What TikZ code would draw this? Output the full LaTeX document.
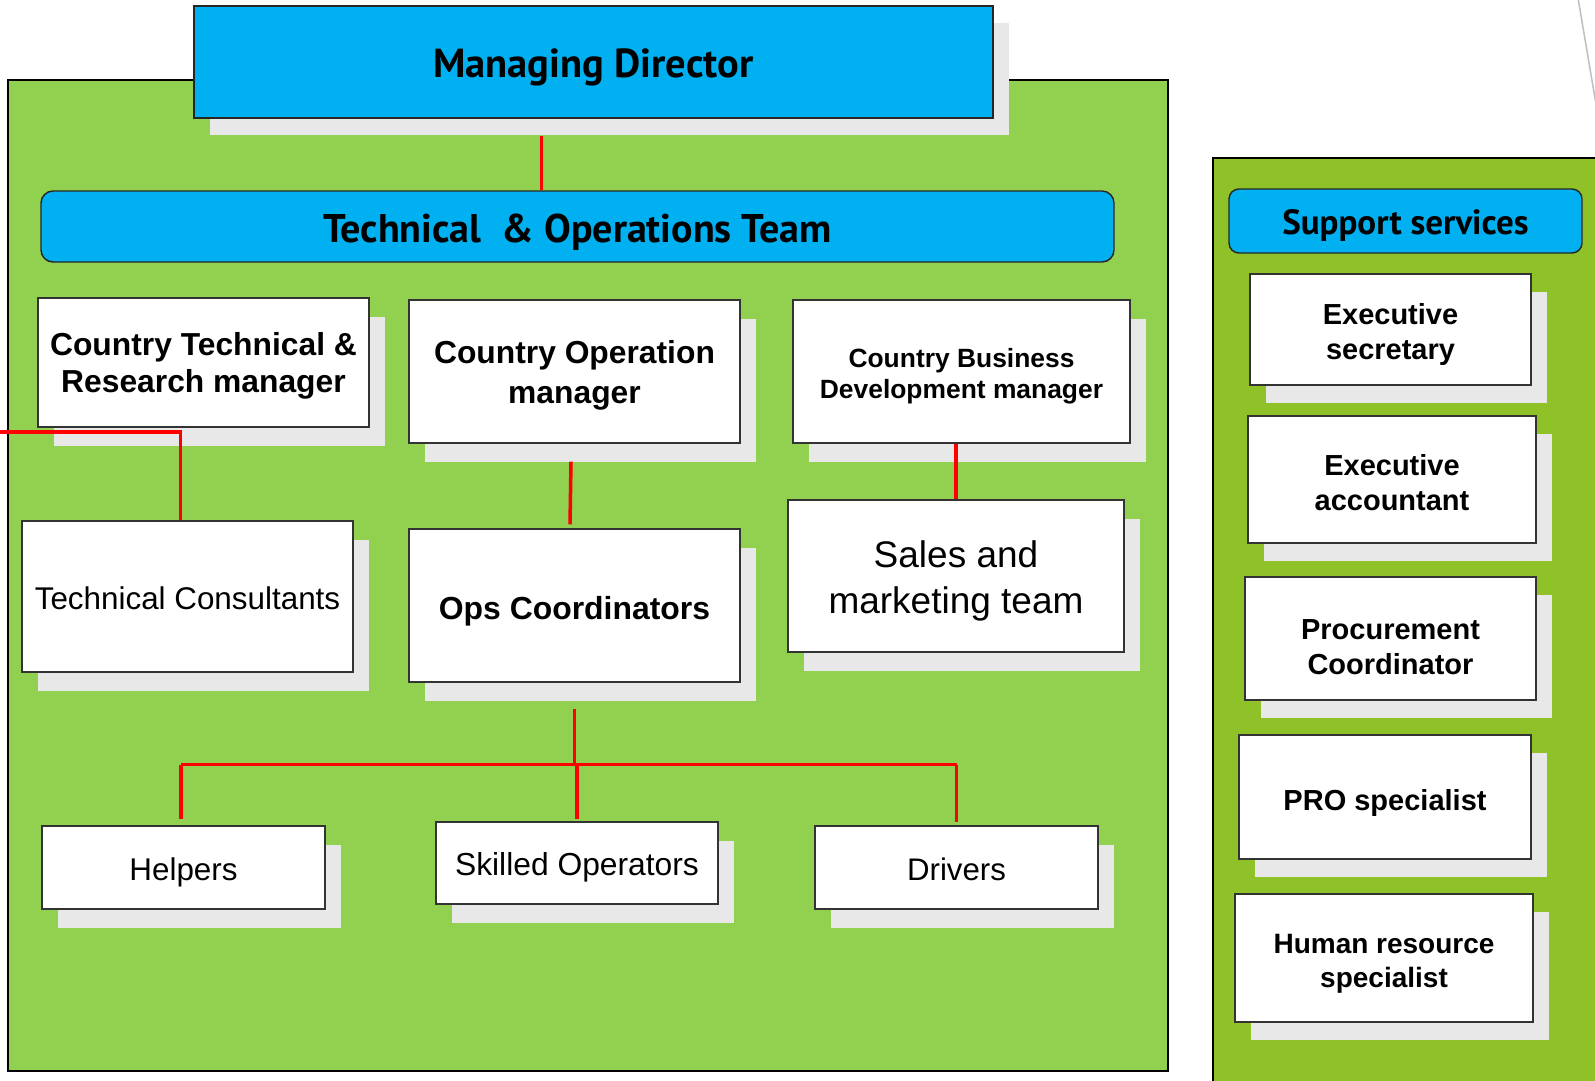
\documentclass[tikz,border=0pt]{standalone}
\usepackage{fontspec}
\setmainfont{Liberation Sans}
\newfontfamily\headfont{PT Sans}
\usetikzlibrary{shadows,calc}
\definecolor{maingreen}{HTML}{92D050}
\definecolor{supgreen}{HTML}{8FC128}
\definecolor{hdrblue}{HTML}{00B0F0}
\definecolor{shadegray}{HTML}{E8E8E8}
\definecolor{edgegray}{HTML}{333333}
\definecolor{conred}{HTML}{FF0000}
% strut on the first line: pushes the text block down by #1
\newcommand\txtdrop[1]{\rule{0pt}{\dimexpr 0.74em+#1*2\relax}}
\begin{document}
\begin{tikzpicture}[x=1pt,y=-1pt,
  panel/.style={draw=black, line width=2pt},
  orgbox/.style={draw=edgegray, line width=1.4pt, fill=white, inner sep=0pt, align=center,
     general shadow={fill=shadegray, shadow xshift=16pt, shadow yshift=-19pt}},
  supbox/.style={draw=edgegray, line width=1.4pt, fill=white, inner sep=0pt, align=center,
     font=\bfseries\fontsize{29}{35}\selectfont,
     general shadow={fill=shadegray, shadow xshift=16pt, shadow yshift=-18pt}},
  hdrbox/.style={draw=black!85, line width=1.4pt, fill=hdrblue, inner sep=0pt, align=center},
  link/.style={draw=conred, line width=3.5pt}
]
\clip (0,0) rectangle (1595,1081);
\fill[white] (0,0) rectangle (1595,1081);
% panels
\draw[panel, fill=maingreen] (8,80) rectangle (1168,1071);
\draw[panel, fill=supgreen] (1213,158) rectangle (1620,1110);
\draw[black!25, line width=1.5pt] (1578,-2) -- (1599,122);

% top headers
\node[hdrbox, minimum width=799pt, minimum height=112pt,
      general shadow={fill=shadegray, shadow xshift=16pt, shadow yshift=-17pt},
      font=\headfont\bfseries\fontsize{40.5}{44}\selectfont] (md) at (593.5,62) {\txtdrop{5pt}Managing Director};
\node[hdrbox, rounded corners=12pt, minimum width=1073pt, minimum height=71pt,
      font=\headfont\bfseries\fontsize{40}{44}\selectfont] (team) at (577.5,226.5) {\txtdrop{5pt}Technical\ \ \& Operations Team};

% managers
\node[orgbox, minimum width=331pt, minimum height=129pt, font=\bfseries\fontsize{31.8}{37}\selectfont]
  (ctr) at (203.5,362.5) {\txtdrop{3.5pt}Country Technical \&\\Research manager};
\node[orgbox, minimum width=331pt, minimum height=143pt, font=\bfseries\fontsize{31.8}{40}\selectfont]
  (com) at (574.5,371.5) {\txtdrop{4pt}Country Operation\\manager};
\node[orgbox, minimum width=337pt, minimum height=143pt, font=\bfseries\fontsize{26.4}{31}\selectfont]
  (cbd) at (961.5,371.5) {\txtdrop{4.5pt}Country Business\\Development manager};

% teams
\node[orgbox, minimum width=331pt, minimum height=151pt, font=\fontsize{31.4}{37}\selectfont]
  (tc) at (187.5,596.5) {\txtdrop{2pt}Technical Consultants};
\node[orgbox, minimum width=331pt, minimum height=153pt, font=\bfseries\fontsize{31.9}{37}\selectfont]
  (ops) at (574.5,605.5) {\txtdrop{5pt}Ops Coordinators};
\node[orgbox, minimum width=336pt, minimum height=152pt, font=\fontsize{37}{46}\selectfont]
  (sales) at (956,576) {\txtdrop{5pt}Sales and\\marketing team};

% bottom row
\node[orgbox, minimum width=283pt, minimum height=83pt, font=\fontsize{31.4}{37}\selectfont]
  (helpers) at (183.5,867.5) {\txtdrop{5pt}Helpers};
\node[orgbox, minimum width=282pt, minimum height=82pt, font=\fontsize{31.8}{37}\selectfont]
  (skilled) at (577,863) {\txtdrop{4pt}Skilled Operators};
\node[orgbox, minimum width=283pt, minimum height=83pt, font=\fontsize{31.2}{37}\selectfont]
  (drivers) at (956.5,867.5) {\txtdrop{2pt}Drivers};

% support services
\node[hdrbox, rounded corners=10pt, minimum width=353pt, minimum height=64pt,
      font=\headfont\bfseries\fontsize{35}{38}\selectfont] (ss) at (1405.5,221) {\txtdrop{4pt}Support services};
\node[supbox, minimum width=281pt, minimum height=111pt] (es) at (1390.5,329.5) {\txtdrop{4.5pt}Executive\\secretary};
\node[supbox, minimum width=288pt, minimum height=127pt] (ea) at (1392,479.5) {\txtdrop{2.5pt}Executive\\accountant};
\node[supbox, minimum width=291pt, minimum height=123pt] (pc) at (1390.5,638.5) {\txtdrop{8pt}Procurement\\Coordinator};
\node[supbox, minimum width=292pt, minimum height=124pt] (pro) at (1385,797) {\txtdrop{6pt}PRO specialist};
\node[supbox, minimum width=298pt, minimum height=128pt, font=\bfseries\fontsize{28}{34}\selectfont]
  (hr) at (1384,958) {\txtdrop{5.5pt}Human resource\\specialist};

% connectors
\coordinate (mdfoot) at ($(md.south)+(-52,17)$);
\draw[link] (mdfoot) -- (mdfoot |- team.north);
\coordinate (ctrleft) at (0,432);
\coordinate (ctrjoin) at ($(ctr.south west)+(143,5)$);
\draw[link] (ctrleft) -| (tc.north -| ctrjoin);
\draw[link] ($(com.south)+(-3.5,18)$) -- ($(ops.north)+(-4.5,-4)$);
\draw[link] (sales.north |- cbd.south) -- (sales.north);
\coordinate (bar) at ($(ops.south)+(0,82)$);
\coordinate (barL) at ($(helpers.north |- bar)+(-2.5,0)$);
\coordinate (barR) at (drivers.north |- bar);
\draw[link] ($(ops.south)+(0,26)$) -- (bar);
\draw[link] (barL) -- (barR);
\draw[link] (barL) -- ($(helpers.north)+(-2.5,-6)$);
\draw[link] (skilled.north |- bar) -- ($(skilled.north)+(0,-2)$);
\draw[link] (barR) -- ($(drivers.north)+(0,-3)$);
\end{tikzpicture}
\end{document}
